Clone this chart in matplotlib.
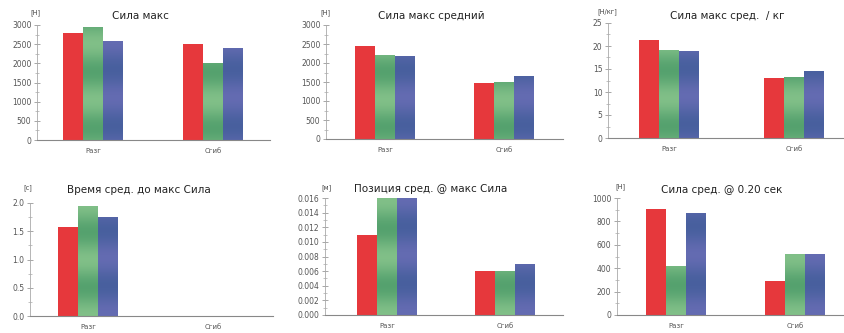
import numpy as np
import matplotlib
matplotlib.use("Agg")
import matplotlib.pyplot as plt
from matplotlib.colors import to_rgb
from matplotlib.ticker import MultipleLocator, FormatStrFormatter

W, H = 845, 333

categories = ["Разг", "Сгиб"]

# Сила макс [Н]
sila_maks_red = [2780, 2500]
sila_maks_green = [2950, 2000]
sila_maks_blue = [2590, 2400]

# Сила макс средний [Н]
sila_sred_red = [2460, 1480]
sila_sred_green = [2210, 1500]
sila_sred_blue = [2180, 1660]

# Сила макс сред. / кг [Н/кг]
sila_kg_red = [21.4, 13.0]
sila_kg_green = [19.1, 13.2]
sila_kg_blue = [18.9, 14.5]

# Время сред. до макс Сила [с]
vremya_red = [1.57, np.nan]
vremya_green = [1.95, np.nan]
vremya_blue = [1.75, np.nan]

# Позиция сред. @ макс Сила [м]
poziciya_red = [0.011, 0.006]
poziciya_green = [0.016, 0.006]
poziciya_blue = [0.016, 0.007]

# Сила сред. @ 0.20 сек [Н]
sila_020_red = [910, 290]
sila_020_green = [420, 525]
sila_020_blue = [870, 525]

titles = ["Сила макс", "Сила макс средний", "Сила макс сред.  / кг",
          "Время сред. до макс Сила", "Позиция сред. @ макс Сила", "Сила сред. @ 0.20 сек"]
units = ["[Н]", "[Н]", "[Н/кг]", "[с]", "[м]", "[Н]"]
series = [
    (sila_maks_red, sila_maks_green, sila_maks_blue),
    (sila_sred_red, sila_sred_green, sila_sred_blue),
    (sila_kg_red, sila_kg_green, sila_kg_blue),
    (vremya_red, vremya_green, vremya_blue),
    (poziciya_red, poziciya_green, poziciya_blue),
    (sila_020_red, sila_020_green, sila_020_blue),
]
y_max = [3000, 3000, 25, 2.0, 0.016, 1000]
y_step = [500, 500, 5, 0.5, 0.002, 200]
y_fmt = ["%d", "%d", "%d", "%.1f", "%.3f", "%d"]

# panel layout in pixels: left, top, right, bottom, group centres, title x, row band phase
layout = [
    (37, 25, 270, 140, (93, 213), 140, 0.10),
    (326, 25, 563, 139, (385, 504), 431, 0.10),
    (608, 23, 844, 138, (669, 794), 727, 0.10),
    (30, 203, 273, 316, (88, 213), 139, 0.25),
    (325, 198, 563, 315, (387, 505), 431, 0.25),
    (617, 198, 844, 315, (676, 795), 722, 0.25),
]
title_y = [16, 16, 16, 190, 189, 190]
unit_pos = [(35, 13), (325, 13), (607, 12), (28, 188), (327, 188), (620, 187)]

RED = "#e6383c"
GREEN_LIGHT, GREEN_DARK = to_rgb("#8fc990"), to_rgb("#479866")
BLUE_LIGHT, BLUE_DARK = to_rgb("#6d6fb8"), to_rgb("#3f5c98")

fig = plt.figure(figsize=(W / 100, H / 100), dpi=100)
fig.patch.set_facecolor("white")


def banded_fill(ax, patch, light, dark, ymax, phase):
    x0 = patch.get_x()
    w = patch.get_width()
    h = patch.get_height()
    if not np.isfinite(h) or h <= 0:
        return
    n = 200
    yy = np.linspace(0, h, n)
    frac = yy / ymax
    m = 0.5 * (1 + np.cos(2 * np.pi * (frac - phase) / 0.49))
    m = 0.2 + 0.6 * m
    light = np.array(light)
    dark = np.array(dark)
    cols = light[None, :] * (1 - m[:, None]) + dark[None, :] * m[:, None]
    img = cols[:, None, :]
    im = ax.imshow(img, extent=(x0, x0 + w, 0, h), origin="lower",
                   aspect="auto", interpolation="bilinear", zorder=2)
    im.set_clip_path(patch)


for i, (red, green, blue) in enumerate(series):
    left, top, right, bottom, (g0, g1), tx, phase = layout[i]
    ax = fig.add_axes([left / W, 1 - bottom / H, (right - left) / W, (bottom - top) / H])
    span = g1 - g0
    bw = 20 / span
    x = np.arange(len(categories))
    ax.bar(x - bw, red, bw, color=RED, zorder=2, linewidth=0)
    bars_g = ax.bar(x, green, bw, color=GREEN_DARK, zorder=2, linewidth=0)
    bars_b = ax.bar(x + bw, blue, bw, color=BLUE_DARK, zorder=2, linewidth=0)
    for p in bars_g:
        banded_fill(ax, p, GREEN_LIGHT, GREEN_DARK, y_max[i], phase)
    for p in bars_b:
        banded_fill(ax, p, BLUE_LIGHT, BLUE_DARK, y_max[i], phase + 0.02)

    ax.set_xlim((left - g0) / span, (right - g0) / span)
    ax.set_ylim(0, y_max[i])
    ax.set_xticks(x)
    ax.set_xticklabels(categories, fontsize=5, color="#555555")
    ax.tick_params(axis="x", length=0, pad=6)
    ax.yaxis.set_major_locator(MultipleLocator(y_step[i]))
    ax.yaxis.set_minor_locator(MultipleLocator(y_step[i] / 2))
    ax.yaxis.set_major_formatter(FormatStrFormatter(y_fmt[i]))
    ax.tick_params(axis="y", which="major", direction="inout", length=5, width=0.6,
                   color="#999999", labelsize=5.5, labelcolor="#555555", pad=1.5)
    ax.tick_params(axis="y", which="minor", direction="inout", length=3, width=0.5,
                   color="#aaaaaa")
    for s in ("top", "right"):
        ax.spines[s].set_visible(False)
    ax.spines["left"].set_color("#aaaaaa")
    ax.spines["left"].set_linewidth(0.6)
    ax.spines["bottom"].set_color("#888888")
    ax.spines["bottom"].set_linewidth(0.8)
    ax.set_facecolor("white")

    fig.text(tx / W, 1 - title_y[i] / H, titles[i], fontsize=7.5, color="#222222",
             ha="center", va="center")
    ux, uy = unit_pos[i]
    fig.text(ux / W, 1 - uy / H, units[i], fontsize=4.8, color="#444444",
             ha="center", va="center")

fig.savefig("out.png", dpi=100, facecolor="white")
